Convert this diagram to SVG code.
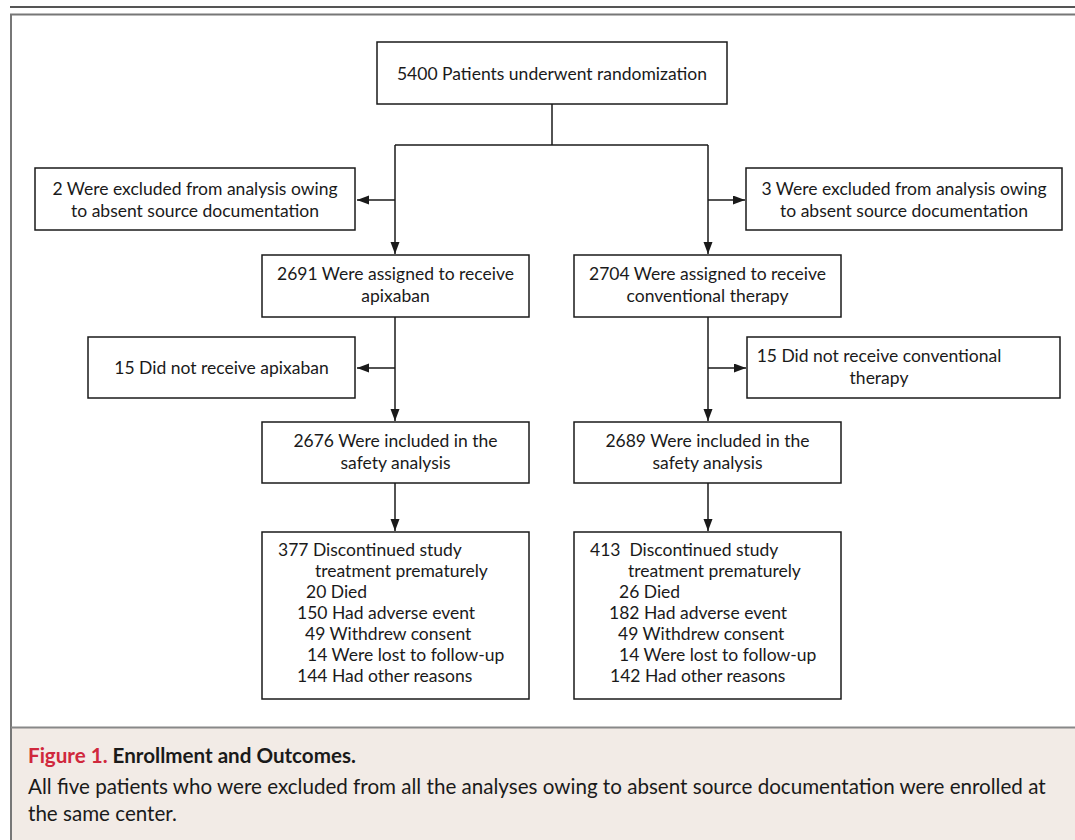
<svg xmlns="http://www.w3.org/2000/svg" width="1075" height="840" viewBox="0 0 1075 840">
<defs>
<style>
.box{fill:#fff;stroke:#1a1a1a;stroke-width:1.5}
.t{font-family:Lato,"Open Sans","Liberation Sans",sans-serif;font-size:17.5px;fill:#1a1a1a}
.cap{font-family:Lato,"Open Sans","Liberation Sans",sans-serif;font-size:20.6px;fill:#1a1a1a}
.c{text-anchor:middle}
.ln{fill:none;stroke:#1a1a1a;stroke-width:1.5}
</style>
<marker id="ah" markerUnits="userSpaceOnUse" markerWidth="13" markerHeight="10" refX="12" refY="4.5" orient="auto">
<path d="M0,0 L12,4.5 L0,9 Z" fill="#1a1a1a"/>
</marker>
</defs>
<rect x="0" y="0" width="1075" height="840" fill="#fff"/>
<line x1="10" y1="7" x2="1075" y2="7" stroke="#555" stroke-width="2"/>
<rect x="11" y="14.5" width="1070" height="840" fill="none" stroke="#777" stroke-width="2"/>
<rect x="12" y="728" width="1063" height="112" fill="#f2ebe6"/>
<line x1="11" y1="727.5" x2="1075" y2="727.5" stroke="#888" stroke-width="2"/>

<g id="connectors">
<line class="ln" x1="552" y1="104" x2="552" y2="145"/>
<polyline class="ln" points="395,145 708,145"/>
<line class="ln" x1="395" y1="145" x2="395" y2="254" marker-end="url(#ah)"/>
<line class="ln" x1="708" y1="145" x2="708" y2="254" marker-end="url(#ah)"/>
<line class="ln" x1="395" y1="200" x2="357" y2="200" marker-end="url(#ah)"/>
<line class="ln" x1="708" y1="200" x2="745" y2="200" marker-end="url(#ah)"/>
<line class="ln" x1="395" y1="317" x2="395" y2="421" marker-end="url(#ah)"/>
<line class="ln" x1="708" y1="317" x2="708" y2="421" marker-end="url(#ah)"/>
<line class="ln" x1="395" y1="368" x2="357" y2="368" marker-end="url(#ah)"/>
<line class="ln" x1="708" y1="368" x2="746" y2="368" marker-end="url(#ah)"/>
<line class="ln" x1="395" y1="483" x2="395" y2="531" marker-end="url(#ah)"/>
<line class="ln" x1="708" y1="483" x2="708" y2="531" marker-end="url(#ah)"/>
</g>

<g id="n-random">
<rect class="box" x="377" y="42" width="350" height="62"/>
<text class="t c" x="552" y="80">5400 Patients underwent randomization</text>
</g>
<g id="n-excl-left">
<rect class="box" x="35" y="168" width="320" height="62"/>
<text class="t c" x="195" y="195">2 Were excluded from analysis owing</text>
<text class="t c" x="195" y="217">to absent source documentation</text>
</g>
<g id="n-excl-right">
<rect class="box" x="746" y="168" width="316" height="62"/>
<text class="t c" x="904" y="195">3 Were excluded from analysis owing</text>
<text class="t c" x="904" y="217">to absent source documentation</text>
</g>
<g id="n-apix">
<rect class="box" x="262" y="255" width="267" height="62"/>
<text class="t c" x="395.5" y="280">2691 Were assigned to receive</text>
<text class="t c" x="395.5" y="302">apixaban</text>
</g>
<g id="n-conv">
<rect class="box" x="574" y="255" width="267" height="62"/>
<text class="t c" x="707.5" y="280">2704 Were assigned to receive</text>
<text class="t c" x="707.5" y="302">conventional therapy</text>
</g>
<g id="n-norec-left">
<rect class="box" x="88" y="337" width="267" height="61"/>
<text class="t c" x="221.5" y="374">15 Did not receive apixaban</text>
</g>
<g id="n-norec-right">
<rect class="box" x="747" y="337" width="313" height="61"/>
<text class="t c" x="879" y="362">15 Did not receive conventional</text>
<text class="t c" x="879" y="384">therapy</text>
</g>
<g id="n-safety-left">
<rect class="box" x="262" y="422" width="267" height="61"/>
<text class="t c" x="395.5" y="447">2676 Were included in the</text>
<text class="t c" x="395.5" y="469">safety analysis</text>
</g>
<g id="n-safety-right">
<rect class="box" x="574" y="422" width="267" height="61"/>
<text class="t c" x="707.5" y="447">2689 Were included in the</text>
<text class="t c" x="707.5" y="469">safety analysis</text>
</g>
<g id="n-disc-left">
<rect class="box" x="262" y="532" width="267" height="167"/>
<text class="t" x="278" y="556">377 Discontinued study</text>
<text class="t" x="315" y="577">treatment prematurely</text>
<text class="t" x="306" y="598">20 Died</text>
<text class="t" x="297" y="619">150 Had adverse event</text>
<text class="t" x="305" y="640">49 Withdrew consent</text>
<text class="t" x="307" y="661">14 Were lost to follow-up</text>
<text class="t" x="297" y="682">144 Had other reasons</text>
</g>
<g id="n-disc-right">
<rect class="box" x="574" y="532" width="267" height="167"/>
<text class="t" x="590" y="556" xml:space="preserve">413  Discontinued study</text>
<text class="t" x="628" y="577">treatment prematurely</text>
<text class="t" x="619" y="598">26 Died</text>
<text class="t" x="609" y="619">182 Had adverse event</text>
<text class="t" x="618" y="640">49 Withdrew consent</text>
<text class="t" x="619" y="661">14 Were lost to follow-up</text>
<text class="t" x="610" y="682">142 Had other reasons</text>
</g>

<g id="caption">
<text class="cap" x="28" y="763" font-weight="bold"><tspan fill="#d0283c">Figure 1.</tspan> Enrollment and Outcomes.</text>
<text class="cap" x="28" y="794">All five patients who were excluded from all the analyses owing to absent source documentation were enrolled at</text>
<text class="cap" x="28" y="821">the same center.</text>
</g>
</svg>
